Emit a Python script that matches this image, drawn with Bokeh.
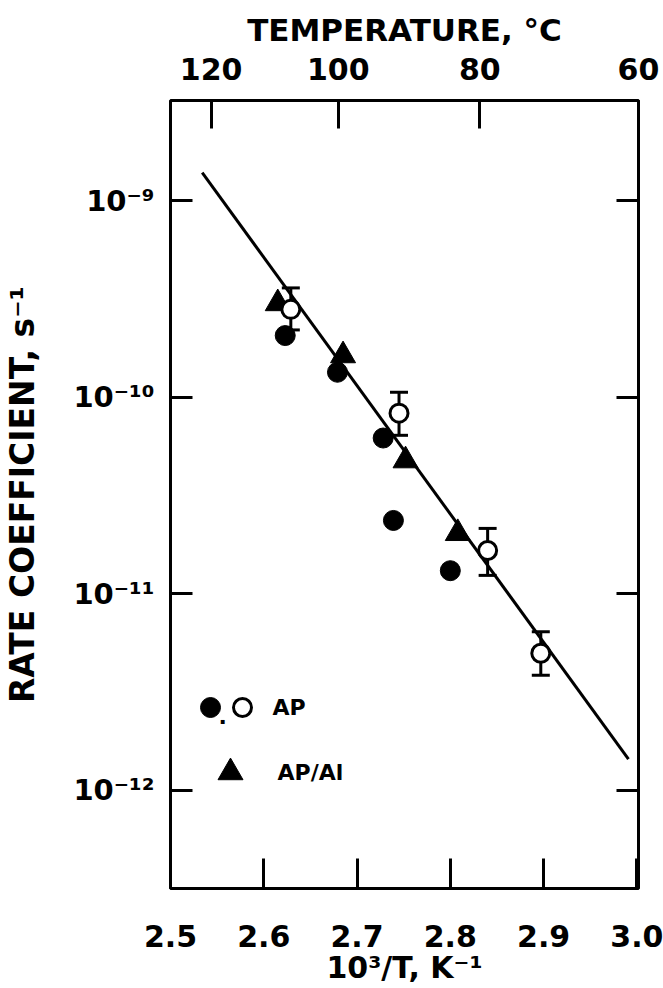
from bokeh.plotting import figure
from bokeh.models import (Range1d, LinearAxis, LogAxis, FixedTicker, PrintfTickFormatter,
                          CustomJSTickFormatter, Label, ColumnDataSource, Whisker, TeeHead)
from bokeh.embed import file_html
from bokeh.resources import INLINE

# ---- data -------------------------------------------------------------
# AP, filled circles
ap_solid_x = [2.623, 2.679, 2.728, 2.739, 2.800]
ap_solid_k = [2.06e-10, 1.34e-10, 6.2e-11, 2.36e-11, 1.31e-11]

# AP, open circles with error bars
ap_open_x = [2.629, 2.745, 2.840, 2.897]
ap_open_k = [2.8e-10, 8.3e-11, 1.66e-11, 4.98e-12]
ap_open_hi = [3.6e-10, 1.06e-10, 2.15e-11, 6.4e-12]
ap_open_lo = [2.2e-10, 6.4e-11, 1.24e-11, 3.85e-12]

# AP/Al, triangles
apal_x = [2.615, 2.685, 2.752, 2.808]
apal_k = [3.0e-10, 1.63e-10, 4.76e-11, 2.03e-11]

# Arrhenius fit line
fit_x = [2.534, 2.991]
fit_k = [1.39e-9, 1.44e-12]

# axes
x_ticks = [2.5, 2.6, 2.7, 2.8, 2.9, 3.0]
y_exponents = [-9, -10, -11, -12]
temps_c = [120, 100, 80, 60]

# ---- layout -----------------------------------------------------------
FONT = "DejaVu Sans"
W, H = 663, 988
LEFT, RIGHT, TOP, BOTTOM = 170, 25, 100, 100
FRAME_W = W - LEFT - RIGHT
FRAME_H = H - TOP - BOTTOM
temp_ticks = [1000.0 / (t + 273.15) for t in temps_c]
X_MIN, X_MAX = 2.5, max(3.0, max(temp_ticks)) + 0.0001
LOG_Y_MIN, LOG_Y_MAX = -12.5, -8.49

SUPERSCRIPT = str.maketrans("-0123456789", "\u207b\u2070\u00b9\u00b2\u00b3\u2074\u2075\u2076\u2077\u2078\u2079")


def frame_to_data(dx, dy):
    """Pixel offset from the frame's bottom-left corner -> data coordinates."""
    x = X_MIN + dx * (X_MAX - X_MIN) / FRAME_W
    y = 10 ** (LOG_Y_MIN + dy * (LOG_Y_MAX - LOG_Y_MIN) / FRAME_H)
    return x, y


p = figure(width=W, height=H,
           x_range=Range1d(X_MIN, X_MAX),
           y_range=Range1d(10 ** LOG_Y_MIN, 10 ** LOG_Y_MAX),
           y_axis_type="log", x_axis_location=None, y_axis_location=None,
           output_backend="svg", toolbar_location=None,
           min_border_left=LEFT, min_border_right=RIGHT,
           min_border_top=TOP, min_border_bottom=BOTTOM)
p.grid.visible = False
p.outline_line_color = "black"
p.outline_line_width = 3
p.background_fill_color = "white"
p.border_fill_color = "white"


def style_axis(ax, tick_in, size="30px"):
    ax.axis_line_color = None
    ax.major_tick_in = tick_in
    ax.major_tick_out = 0
    ax.major_tick_line_width = 3
    ax.major_tick_line_color = "black"
    ax.minor_tick_line_color = None
    ax.major_label_text_font = FONT
    ax.major_label_text_font_style = "bold"
    ax.major_label_text_font_size = size
    ax.major_label_text_color = "black"
    ax.axis_label_text_font = FONT
    ax.axis_label_text_font_style = "bold"
    ax.axis_label_text_color = "black"


def nearest_label(positions, names, log=False):
    return CustomJSTickFormatter(
        args=dict(pos=positions, names=names, use_log=log),
        code="""
            const f = (v) => use_log ? Math.log10(v) : v;
            let best = 0;
            for (let i = 0; i < pos.length; i++) {
                if (Math.abs(f(pos[i]) - f(tick)) < Math.abs(f(pos[best]) - f(tick))) best = i;
            }
            return names[best];
        """)


# bottom: 10^3/T
bottom = LinearAxis(ticker=FixedTicker(ticks=x_ticks),
                    formatter=PrintfTickFormatter(format="%.1f"))
style_axis(bottom, 30)
bottom.major_label_standoff = 36
bottom.axis_label = "10\u00b3/T, K\u207b\u00b9"
bottom.axis_label_text_font_size = "30px"
bottom.axis_label_standoff = 0
p.add_layout(bottom, "below")

# top: temperature scale
top = LinearAxis(ticker=FixedTicker(ticks=temp_ticks),
                 formatter=nearest_label(temp_ticks, [str(t) for t in temps_c]))
style_axis(top, 28)
top.major_label_standoff = 21
top.axis_label = "TEMPERATURE, \u00b0C"
top.axis_label_text_font_size = "31px"
top.axis_label_standoff = 7
p.add_layout(top, "above")

# left / right: rate coefficient
y_ticks = [10.0 ** e for e in y_exponents]
y_names = ["10" + str(e).translate(SUPERSCRIPT) for e in y_exponents]
left = LogAxis(ticker=FixedTicker(ticks=y_ticks), formatter=nearest_label(y_ticks, y_names, True))
style_axis(left, 22, "29px")
left.major_label_standoff = 16
left.axis_label = "RATE COEFFICIENT, s\u207b\u00b9"
left.axis_label_text_font_size = "33px"
left.axis_label_standoff = 28
p.add_layout(left, "left")

right = LogAxis(ticker=FixedTicker(ticks=y_ticks), formatter=CustomJSTickFormatter(code="return ''"))
style_axis(right, 22, "1px")
right.major_label_standoff = 0
p.add_layout(right, "right")

# ---- marks ------------------------------------------------------------
p.line(fit_x, fit_k, line_color="black", line_width=3)

open_src = ColumnDataSource(dict(x=ap_open_x, k=ap_open_k, hi=ap_open_hi, lo=ap_open_lo))
p.add_layout(Whisker(source=open_src, base="x", upper="hi", lower="lo", dimension="height",
                     line_color="black", line_width=3,
                     upper_head=TeeHead(size=18, line_width=3, line_color="black"),
                     lower_head=TeeHead(size=18, line_width=3, line_color="black")))

p.scatter(apal_x, apal_k, marker="triangle", size=25, fill_color="black", line_color="black")
p.scatter(ap_solid_x, ap_solid_k, marker="circle", size=20, fill_color="black", line_color="black")
p.scatter("x", "k", source=open_src, marker="circle", size=18,
          fill_color="white", line_color="black", line_width=3)

# ---- legend -------------------------------------------------------------
fx, fy = frame_to_data(40, 181)
ox, _ = frame_to_data(72, 181)
tx, ty = frame_to_data(60, 116)
p.scatter([fx], [fy], marker="circle", size=20, fill_color="black", line_color="black")
p.scatter([ox], [fy], marker="circle", size=18, fill_color="white", line_color="black", line_width=3)
p.scatter([tx], [ty], marker="triangle", size=25, fill_color="black", line_color="black")
legend_style = dict(text_font=FONT, text_font_style="bold", text_color="black",
                    text_baseline="middle", text_align="left", text_font_size="22px")
p.add_layout(Label(x=fx, y=fy, x_offset=8, y_offset=-8, text=".", **legend_style))
p.add_layout(Label(x=ox, y=fy, x_offset=30, text="AP", **legend_style))
p.add_layout(Label(x=tx, y=ty, x_offset=47, text="AP/Al", **legend_style))

open("out.html", "w").write(file_html(p, INLINE))
